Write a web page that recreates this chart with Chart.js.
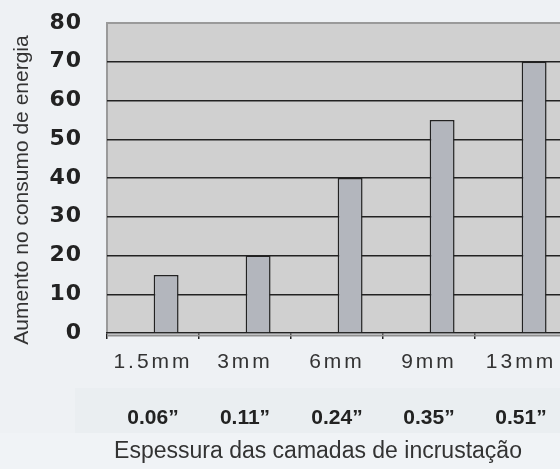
<!DOCTYPE html>
<html>
<head>
<meta charset="utf-8">
<script src="https://cdn.jsdelivr.net/npm/chart.js@4.4.1/dist/chart.umd.min.js"></script>
<style>
  html, body { margin: 0; padding: 0; background: #eef1f4; overflow: hidden; }
  /* plot runs slightly past the right edge of the window, as in the original */
  #wrap { width: 560px; height: 469px; position: relative; overflow: hidden; }
</style>
</head>
<body>
<div id="wrap"><canvas id="chart" width="567" height="469"></canvas></div>
<script>
// data
const thicknessMm = ["1.5mm", "3mm", "6mm", "9mm", "13mm"];
const thicknessIn = ["0.06\u201d", "0.11\u201d", "0.24\u201d", "0.35\u201d", "0.51\u201d"];
const energyIncrease = [15, 20, 40, 55, 70];

const yTitle = "Aumento no consumo de energia";
const xTitle = "Espessura das camadas de incrustação";

// wrap a scale's label drawing so its text gets letter spacing
function spaceLabels(scale, spacing) {
  if (scale._spaced) return;
  const orig = scale.drawLabels;
  scale.drawLabels = function (area) {
    const ctx = this.ctx;
    ctx.save();
    ctx.letterSpacing = spacing;
    orig.call(this, area);
    ctx.restore();
  };
  scale._spaced = true;
}

const backdrop = {
  id: "backdrop",
  afterUpdate(chart) {
    spaceLabels(chart.scales.y, "1px");
    spaceLabels(chart.scales.x, "3px");
  },
  beforeDraw(chart) {
    const { ctx, chartArea: a } = chart;
    ctx.save();
    ctx.fillStyle = "#eef1f4";
    ctx.fillRect(0, 0, chart.width, chart.height);
    // faint band behind the inch labels
    ctx.fillStyle = "#eaeef1";
    ctx.fillRect(75, 388, chart.width - 75, 45);
    ctx.fillStyle = "#f0f3f6";
    ctx.fillRect(0, 433, chart.width, chart.height - 433);
    // plot area
    ctx.fillStyle = "#d0d0d0";
    ctx.fillRect(a.left, a.top, a.right - a.left, a.bottom - a.top);
    ctx.strokeStyle = "#9a9a9a";
    ctx.lineWidth = 2;
    ctx.beginPath();
    ctx.moveTo(a.left, a.bottom);
    ctx.lineTo(a.left, a.top);
    ctx.lineTo(a.right, a.top);
    ctx.stroke();
    ctx.restore();
  },
  afterDraw(chart) {
    const { ctx, chartArea: a } = chart;
    ctx.save();
    // grey rule just under the dark base line
    ctx.strokeStyle = "#8f8f8f";
    ctx.lineWidth = 2;
    ctx.beginPath();
    ctx.moveTo(a.left, a.bottom + 2.5);
    ctx.lineTo(a.right, a.bottom + 2.5);
    ctx.stroke();

    ctx.fillStyle = "#333";
    ctx.textAlign = "center";
    ctx.textBaseline = "middle";
    // x title
    ctx.font = "23px 'Liberation Sans', Arial, sans-serif";
    ctx.fillText(xTitle, 318, 452);
    // y title
    ctx.translate(22, 190);
    ctx.rotate(-Math.PI / 2);
    ctx.font = "21px 'Liberation Sans', Arial, sans-serif";
    ctx.fillText(yTitle, 0, 0);
    ctx.restore();
  }
};

new Chart(document.getElementById("chart"), {
  type: "bar",
  data: {
    labels: thicknessMm,
    datasets: [
      {
        // empty slot so the bars sit right of centre, as in the original
        data: thicknessMm.map(() => null)
      },
      {
        data: energyIncrease,
        backgroundColor: "#b3b6bd",
        borderColor: "#222",
        borderWidth: 1.5
      }
    ]
  },
  options: {
    responsive: false,
    animation: false,
    devicePixelRatio: 1,
    categoryPercentage: 0.57,
    barPercentage: 0.95,
    layout: { padding: { top: 23, right: 0, left: 0, bottom: 0 } },
    plugins: {
      legend: { display: false },
      tooltip: { enabled: false }
    },
    scales: {
      y: {
        min: 0,
        max: 80,
        afterFit(scale) {
          scale.width = 107;
          scale.paddingTop = 0;
          scale.paddingBottom = 0;
        },
        ticks: {
          stepSize: 10,
          padding: 25,
          color: "#222",
          font: { family: "'DejaVu Sans', sans-serif", size: 22, weight: "bold" }
        },
        grid: {
          drawTicks: false,
          color: ctx => (ctx.tick && ctx.tick.value > 0 && ctx.tick.value < 80 ? "#222" : "transparent"),
          lineWidth: 1.5
        },
        border: { display: false }
      },
      x: {
        afterFit(scale) {
          scale.height = 52;
          scale.paddingLeft = 0;
          scale.paddingRight = 0;
        },
        ticks: {
          padding: 11,
          color: "#333",
          font: { family: "'Liberation Sans', Arial, sans-serif", size: 21 }
        },
        grid: {
          offset: true,
          drawOnChartArea: false,
          drawTicks: true,
          tickLength: 6,
          color: "#222",
          lineWidth: 1.5
        },
        border: { display: true, color: "#222", width: 1.5 }
      },
      x2: {
        type: "category",
        position: "bottom",
        labels: thicknessIn,
        offset: true,
        afterFit(scale) {
          scale.height = 84;
          scale.paddingLeft = 0;
          scale.paddingRight = 0;
        },
        grid: { display: false },
        border: { display: false },
        ticks: {
          padding: 13,
          color: "#222",
          font: { family: "'Liberation Sans', Arial, sans-serif", size: 21, weight: "bold" }
        }
      }
    }
  },
  plugins: [backdrop]
});
</script>
</body>
</html>
